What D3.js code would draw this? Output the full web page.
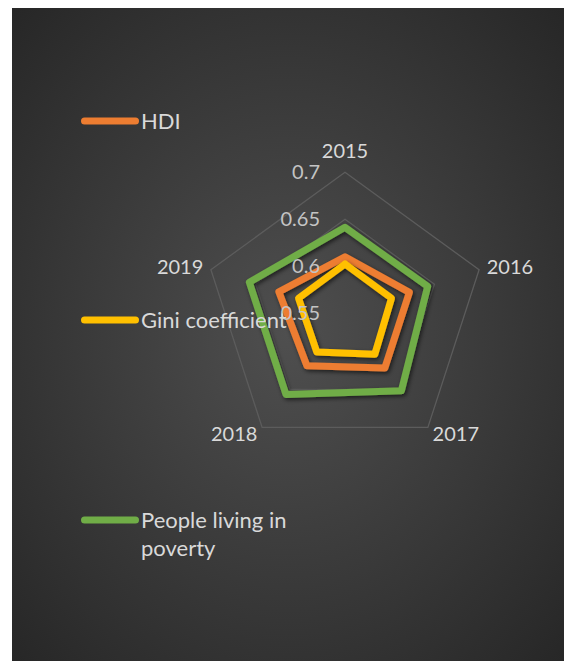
<!DOCTYPE html>
<html>
<head>
<meta charset="utf-8">
<script src="https://cdn.jsdelivr.net/npm/d3@7"></script>
<style>
  html, body { margin: 0; padding: 0; background: #ffffff; }
  svg { display: block; }
  text { font-family: Lato, "Open Sans", sans-serif; }
</style>
</head>
<body>
<svg id="chart" width="567" height="661"></svg>
<script>
// ---- data ----
const years = ["2015", "2016", "2017", "2018", "2019"];
const hdi = [0.610, 0.622, 0.622, 0.619, 0.624];
const gini = [0.6025, 0.602, 0.604, 0.601, 0.602];
const poverty = [0.6415, 0.6425, 0.652, 0.6568, 0.657];
const tickValues = [0.55, 0.6, 0.65, 0.7];
const seriesNames = ["HDI", "Gini coefficient", "People living in poverty"];
const seriesColors = ["#ED7D31", "#FFC000", "#70AD47"];

const series = [
  { name: seriesNames[0], values: hdi, color: seriesColors[0] },
  { name: seriesNames[1], values: gini, color: seriesColors[1] },
  { name: seriesNames[2], values: poverty, color: seriesColors[2] }
];

const svg = d3.select("#chart");
const defs = svg.append("defs");

// background gradient
const grad = defs.append("radialGradient").attr("id", "bg")
  .attr("cx", "50%").attr("cy", "50%").attr("r", "72%");
grad.append("stop").attr("offset", "0%").attr("stop-color", "#4f4f4f");
grad.append("stop").attr("offset", "100%").attr("stop-color", "#262626");

const shadow = defs.append("filter").attr("id", "shadow")
  .attr("x", "-20%").attr("y", "-20%").attr("width", "140%").attr("height", "140%");
shadow.append("feDropShadow").attr("dx", 1.5).attr("dy", 2).attr("stdDeviation", 2)
  .attr("flood-color", "#000").attr("flood-opacity", 0.6);

svg.append("rect").attr("x", 12).attr("y", 8).attr("width", 552).attr("height", 653)
  .attr("fill", "url(#bg)");

// radar geometry
const cx = 345, cy = 313.3, R = 141;
const r = d3.scaleLinear().domain([0.55, 0.7]).range([0, R]);
const angle = d3.scalePoint().domain(years).range([0, 2 * Math.PI * (years.length - 1) / years.length]);

const pt = (year, v) => {
  const a = angle(year);
  const rr = r(v);
  return [cx + rr * Math.sin(a), cy - rr * Math.cos(a)];
};

// gridlines
const grid = svg.append("g");
tickValues.filter(t => r(t) > 0).forEach(t => {
  grid.append("path")
    .attr("d", d3.line()(years.map(y => pt(y, t))) + "Z")
    .attr("fill", "none")
    .attr("stroke", "#5c5c5c")
    .attr("stroke-width", 1.3);
});

// series lines
const lineGen = d3.line().curve(d3.curveLinearClosed);
const lines = svg.append("g");
series.forEach(s => {
  lines.append("path")
    .attr("d", lineGen(years.map((y, i) => pt(y, s.values[i]))))
    .attr("fill", "none")
    .attr("stroke", s.color)
    .attr("stroke-width", 7)
    .attr("stroke-linejoin", "round")
    .attr("filter", "url(#shadow)");
});

// category labels
const labels = svg.append("g").attr("fill", "#d9d9d9").attr("font-size", 20);
years.forEach(y => {
  const a = angle(y);
  const [vx, vy] = pt(y, 0.7);
  const s = Math.sin(a), c = Math.cos(a);
  const t = labels.append("text").text(y);
  if (Math.abs(s) < 0.1) {
    t.attr("x", vx).attr("y", vy - 14).attr("text-anchor", "middle");
  } else {
    t.attr("x", vx + s * 8).attr("y", vy - c * 8).attr("dy", "0.35em")
      .attr("text-anchor", s > 0 ? "start" : "end");
  }
});

// tick labels
const ticks = svg.append("g").attr("fill", "#c4c4c4").attr("font-size", 20);
tickValues.forEach(t => {
  ticks.append("text")
    .attr("x", cx - 25)
    .attr("y", cy - r(t))
    .attr("dy", "0.35em")
    .attr("text-anchor", "end")
    .text(d3.format("")(t));
});

// legend
const legendY = [121, 320, 520];
const legend = svg.append("g");
series.forEach((s, i) => {
  const g = legend.append("g");
  g.append("line")
    .attr("x1", 84.5).attr("x2", 135.5)
    .attr("y1", legendY[i]).attr("y2", legendY[i])
    .attr("stroke", s.color).attr("stroke-width", 7).attr("stroke-linecap", "round");
  const words = s.name === "People living in poverty" ? ["People living in", "poverty"] : [s.name];
  const txt = g.append("text").attr("fill", "#d9d9d9").attr("font-size", 22)
    .attr("x", 141).attr("y", legendY[i]);
  words.forEach((w, j) => {
    txt.append("tspan").attr("x", 141).attr("dy", j === 0 ? "0.35em" : 28).text(w);
  });
});
</script>
</body>
</html>
